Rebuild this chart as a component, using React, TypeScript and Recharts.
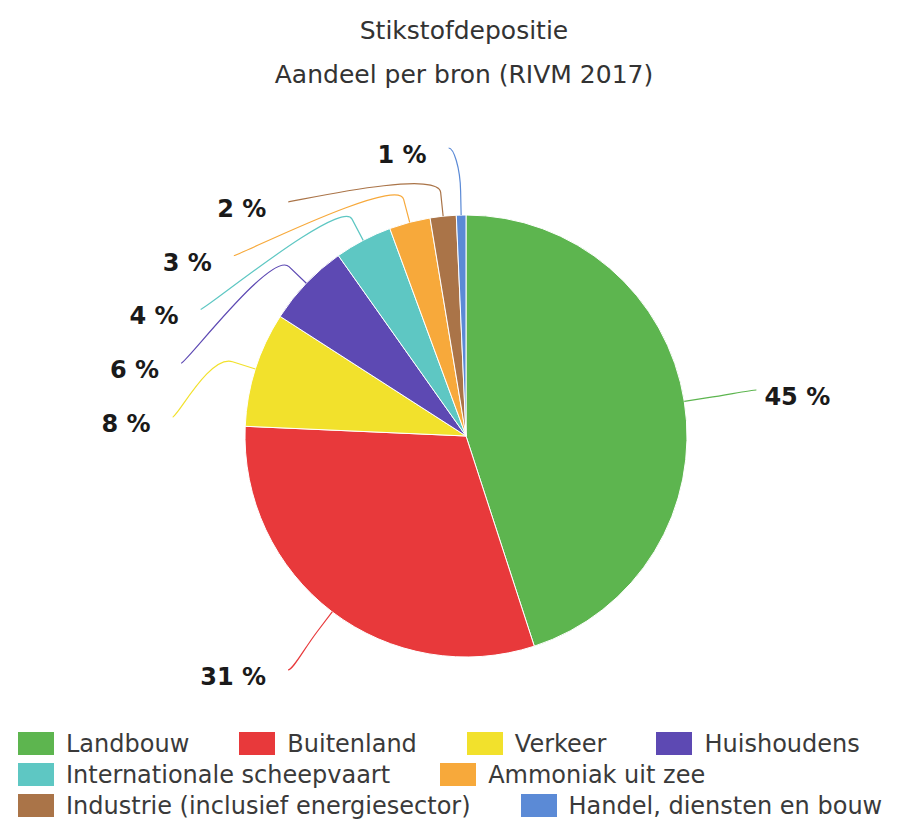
import React from 'react';
import { PieChart, Pie, Cell, Legend } from 'recharts';

const categories = [
  'Landbouw',
  'Buitenland',
  'Verkeer',
  'Huishoudens',
  'Internationale scheepvaart',
  'Ammoniak uit zee',
  'Industrie (inclusief energiesector)',
  'Handel, diensten en bouw',
];
const shares = [45.0, 30.7, 8.4, 6.1, 4.2, 3.0, 1.9, 0.7];
const colors = ['#5db54f', '#e8393b', '#f2e12c', '#5d49b3', '#5ec7c3', '#f7a93b', '#aa7448', '#5b8ad6'];
const titleLines = ['Stikstofdepositie', 'Aandeel per bron (RIVM 2017)'];

const data = categories.map((name, i) => ({ name, value: shares[i] }));

const RADIAN = Math.PI / 180;
const FONT = '"DejaVu Sans", Verdana, sans-serif';

function renderLabel(props: any) {
  const { cx, cy, midAngle, outerRadius, index, percent, fill } = props;
  const cos = Math.cos(-midAngle * RADIAN);
  const sin = Math.sin(-midAngle * RADIAN);
  const left = cos < 0;
  // where the connector touches the slice, and where it breaks
  const tx = cx + outerRadius * cos;
  const ty = cy + outerRadius * sin;
  const bx = cx + (outerRadius + 24) * cos;
  const by = cy + (outerRadius + 24) * sin;
  const dist = outerRadius + 73;

  let lx = cx + dist * cos;
  let ly = cy + dist * sin;
  if (index >= 2) {
    // small slices: labels stacked on the left side
    ly = cy - 19 - (index - 2) * 53.8;
    const dy = ly - cy;
    lx = Math.abs(dy) > dist * 0.95 ? bx - 12 : cx - Math.sqrt(dist * dist - dy * dy);
  }

  const path = `M ${lx} ${ly} C ${lx + (left ? 5 : -5)} ${ly} ${2 * bx - tx} ${2 * by - ty} ${bx} ${by} L ${tx} ${ty}`;

  return (
    <g>
      <path d={path} fill="none" stroke={fill} strokeWidth={1.2} />
      <text
        x={left ? lx - 22 : lx + 8}
        y={ly + 7}
        textAnchor={left ? 'end' : 'start'}
        dominantBaseline="central"
        fontFamily={FONT}
        fontWeight="bold"
        fontSize={24}
        fill="#1a1a1a"
      >
        {`${Math.round(percent * 100)} %`}
      </text>
    </g>
  );
}

function renderLegend() {
  return (
    <div style={{ display: 'flex', flexWrap: 'wrap', columnGap: 50, width: 900, fontFamily: FONT, fontSize: 24 }}>
      {categories.map((name, i) => (
        <div key={name} style={{ display: 'flex', alignItems: 'center', height: 31, whiteSpace: 'nowrap' }}>
          <span style={{ display: 'inline-block', width: 36, height: 23, background: colors[i], marginRight: 12 }} />
          <span style={{ color: '#3a3a3a', lineHeight: '24px' }}>{name}</span>
        </div>
      ))}
    </div>
  );
}

export default function App() {
  return (
    <div style={{ position: 'absolute', left: 0, top: 0, width: 918, height: 822, background: '#fff', overflow: 'hidden' }}>
      {titleLines.map((line, i) => (
        <div
          key={i}
          style={{
            position: 'absolute',
            left: 0,
            width: 928,
            top: 18 + i * 44,
            textAlign: 'center',
            fontFamily: FONT,
            fontSize: 25,
            lineHeight: '25px',
            color: '#333',
          }}
        >
          {line}
        </div>
      ))}
      <div style={{ position: 'absolute', left: 0, top: 0 }}>
        <PieChart width={918} height={822} margin={{ top: 0, right: 0, bottom: 0, left: 0 }}>
          <Pie
            data={data}
            dataKey="value"
            nameKey="name"
            cx={466}
            cy={436}
            outerRadius={221}
            startAngle={90}
            endAngle={-270}
            stroke="#fff"
            strokeWidth={1}
            label={renderLabel}
            labelLine={false}
            isAnimationActive={false}
          >
            {data.map((d, i) => (
              <Cell key={d.name} fill={colors[i]} />
            ))}
          </Pie>
          <Legend
            content={renderLegend}
            wrapperStyle={{ position: 'absolute', left: 18, top: 728, width: 900, bottom: 'auto' }}
          />
        </PieChart>
      </div>
    </div>
  );
}
